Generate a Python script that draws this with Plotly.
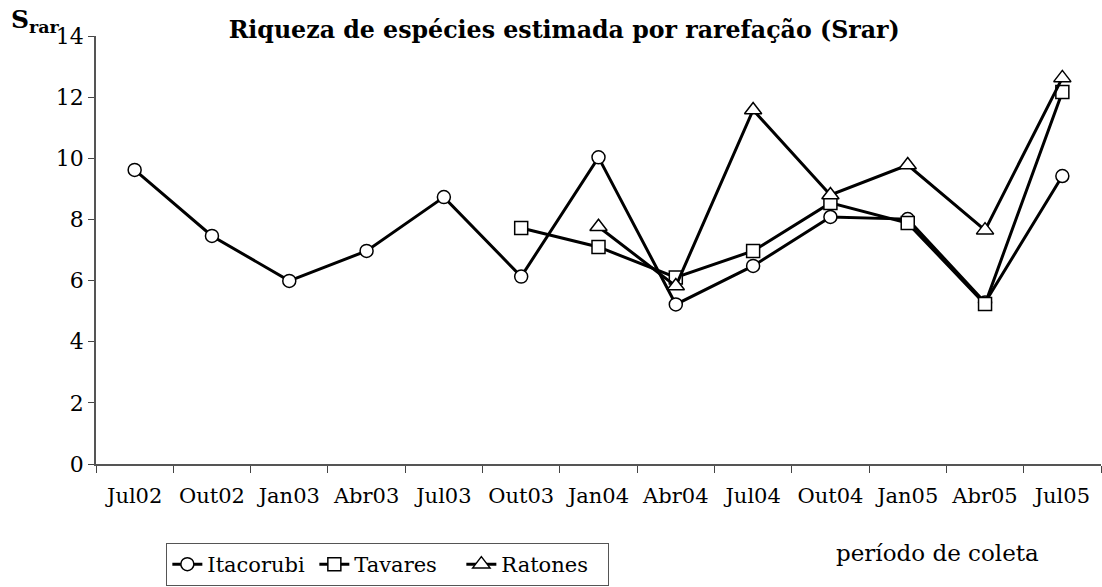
import plotly.graph_objects as go

# collection periods
periodos = ['Jul02', 'Out02', 'Jan03', 'Abr03', 'Jul03', 'Out03', 'Jan04',
            'Abr04', 'Jul04', 'Out04', 'Jan05', 'Abr05', 'Jul05']

# rarefaction richness per site (None = not sampled)
itacorubi = [9.62, 7.46, 5.99, 6.97, 8.73, 6.13, 10.03, 5.22, 6.48, 8.08, 8.01, 5.28, 9.42]
tavares = [None, None, None, None, None, 7.72, 7.1, 6.1, 6.97, 8.54, 7.88, 5.23, 12.17]
ratones = [None, None, None, None, None, None, 7.76, 5.82, 11.58, 8.8, 9.78, 7.65, 12.63]

FONT = 'DejaVu Serif'

fig = go.Figure()
series = [('Itacorubi', itacorubi, 'circle', 13),
          ('Tavares', tavares, 'square', 13),
          ('Ratones', ratones, 'triangle-up', 15)]
for nome, vals, simb, tam in series:
    fig.add_trace(go.Scatter(x=periodos, y=vals, name=nome, mode='lines+markers',
                             connectgaps=False,
                             line=dict(color='black', width=3),
                             marker=dict(symbol=simb, size=tam, color='white',
                                         line=dict(color='black', width=1.5))))

fig.update_layout(
    width=1102, height=587,
    margin=dict(l=96, r=1, t=36, b=123, autoexpand=False),
    plot_bgcolor='white', paper_bgcolor='white',
    font=dict(family=FONT, size=22, color='black'),
    title=dict(text='<b>Riqueza de espécies estimada por rarefação (Srar)</b>',
               x=0.512, xanchor='center', y=0.949, yanchor='middle',
               font=dict(family=FONT, size=23.7, color='black')),
    showlegend=True,
    legend=dict(orientation='h', x=0.07, xanchor='left', y=-0.1846, yanchor='top',
                bordercolor='#555', borderwidth=1, font=dict(size=21),
                itemwidth=30, entrywidth=102, tracegroupgap=0),
    xaxis=dict(type='category', range=[-0.5, 12.5], tickson='boundaries',
               ticks='outside', ticklen=7, tickcolor='#444', showgrid=False,
               showline=True, linecolor='#555', linewidth=1.5, automargin=False,
               ticklabelstandoff=12, tickfont=dict(size=21)),
    yaxis=dict(range=[0, 14], dtick=2, ticks='outside', ticklen=6, tickcolor='#444',
               showgrid=False, zeroline=False, showline=True, linecolor='#555',
               linewidth=1.5, automargin=False, tickfont=dict(size=22)),
)

fig.add_annotation(text='<b>S<sub>rar</sub></b>', xref='paper', yref='paper',
                   x=-0.087, y=1.035, xanchor='left', yanchor='middle',
                   showarrow=False, font=dict(family=FONT, size=25))
fig.add_annotation(text='período de coleta', xref='paper', yref='paper',
                   x=0.837, y=-0.208, xanchor='center', yanchor='middle',
                   showarrow=False, font=dict(family=FONT, size=23))

# drop the default 8px page margin so the figure sits at the window origin
fig.write_html('out.html', config={'displayModeBar': False},
               post_script="document.body.style.margin='0';")
